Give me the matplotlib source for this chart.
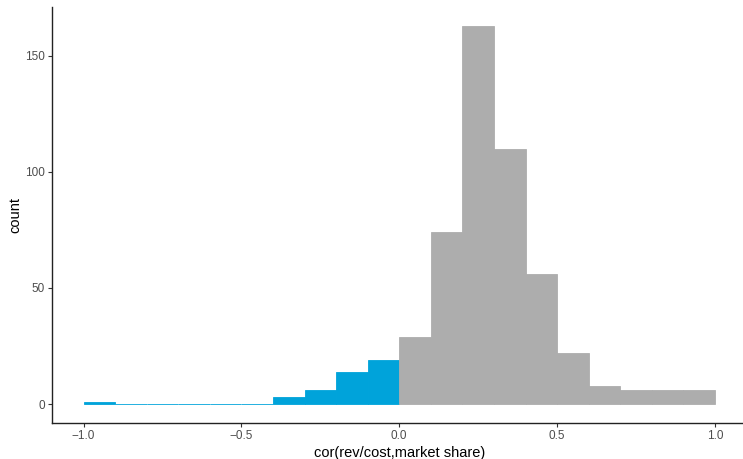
import numpy as np
import matplotlib
matplotlib.use("Agg")
import matplotlib.pyplot as plt

# -------------------------------------------------
# Histogram data (bin width 0.1)
# -------------------------------------------------
bin_edges = [-1.0, -0.9, -0.8, -0.7, -0.6, -0.5, -0.4, -0.3, -0.2, -0.1, 0.0,
             0.1, 0.2, 0.3, 0.4, 0.5, 0.6, 0.7, 0.8, 0.9, 1.0]
neg_counts = [1, 0, 0, 0, 0, 0, 3, 6, 14, 19]
pos_counts = [29, 74, 163, 110, 56, 22, 8, 6, 6, 6]

x_ticks = [-1.0, -0.5, 0.0, 0.5, 1.0]
x_tick_labels = ["\u22121.0", "\u22120.5", "0.0", "0.5", "1.0"]
y_ticks = [0, 50, 100, 150]

BLUE = "#00A3DA"
GREY = "#ADADAD"

plt.rcParams["font.family"] = ["Liberation Sans", "DejaVu Sans"]

fig = plt.figure(figsize=(7.43, 4.59), dpi=100)
ax = fig.add_axes([52 / 743, 36 / 459, 694.5 / 743, 416.3 / 459])

edges = np.array(bin_edges)
lefts = edges[:-1]
width = 0.1

neg_left = lefts[:len(neg_counts)]
pos_left = lefts[len(neg_counts):]

ax.bar(neg_left, neg_counts, width=width, align="edge", color=BLUE,
       edgecolor=BLUE, linewidth=0.6)
ax.bar(pos_left, pos_counts, width=width, align="edge", color=GREY,
       edgecolor=GREY, linewidth=0.6)

ax.set_xlim(-1.1, 1.1)
top = max(pos_counts)
ax.set_ylim(-0.05 * top, 1.05 * top)

ax.set_xticks(x_ticks)
ax.set_xticklabels(x_tick_labels)
ax.set_yticks(y_ticks)

for side in ["top", "right"]:
    ax.spines[side].set_visible(False)
for side in ["left", "bottom"]:
    ax.spines[side].set_linewidth(1.0)
    ax.spines[side].set_color("#222222")

ax.tick_params(axis="both", length=3, width=0.8, color="#333333",
               labelsize=8.5, labelcolor="#4D4D4D", pad=2)

ax.set_xlabel("cor(rev/cost,market share)", fontsize=10.5, labelpad=3)
ax.set_ylabel("count", fontsize=10.5, labelpad=2)

fig.savefig("out.png", dpi=100)
plt.close(fig)
